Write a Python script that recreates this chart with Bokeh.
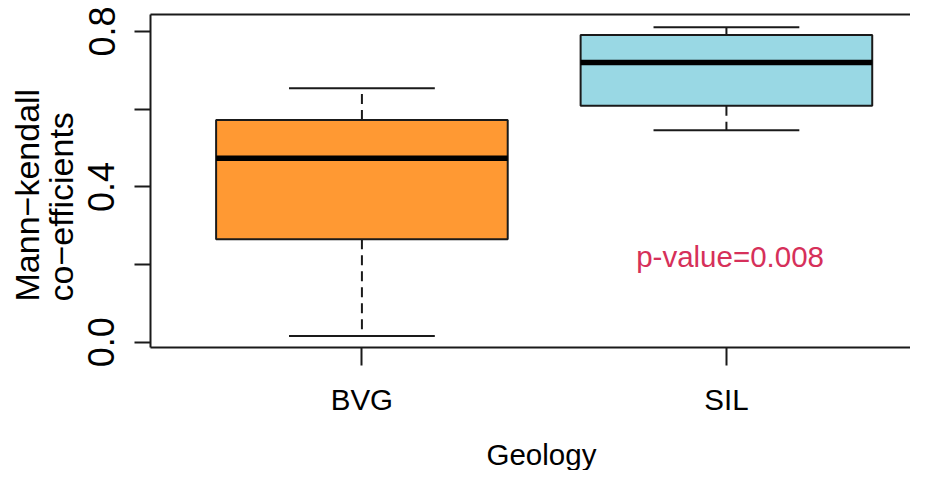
import math
from bokeh.plotting import figure
from bokeh.models import Range1d, FixedTicker, LinearAxis, Label, Title, ColumnDataSource
from bokeh.embed import file_html
from bokeh.resources import INLINE

# ---- data ----
categories = ["BVG", "SIL"]
positions = [1, 2]
lower_whisker = [0.016, 0.546]
q1 = [0.265, 0.609]
median = [0.474, 0.720]
q3 = [0.572, 0.791]
upper_whisker = [0.654, 0.811]
fill_colors = ["#FF9933", "#99D8E4"]

y_ticks = [0.0, 0.2, 0.4, 0.6, 0.8]
y_tick_labels = ["0.0", "", "0.4", "", "0.8"]

x_label = "Geology"
y_label_lines = ["Mann\u2212kendall", "co\u2212efficients"]
p_value_text = "p-value=0.008"
p_value_pos = (2.01, 0.221)

FONT = "Liberation Sans"
LINE = "#1a1a1a"

p = figure(width=910, height=470, output_backend="svg", toolbar_location=None,
           x_range=Range1d(0.42, 2.505), y_range=Range1d(-0.0135, 0.8438),
           min_border_left=149, min_border_right=0, min_border_top=14, min_border_bottom=122,
           x_axis_location="below", y_axis_location="left")
p.outline_line_color = None
p.xgrid.visible = False
p.ygrid.visible = False
p.background_fill_color = "white"
p.border_fill_color = "white"

# axes
xa = p.xaxis[0]
xa.ticker = FixedTicker(ticks=positions)
xa.major_label_overrides = {pos: c for pos, c in zip(positions, categories)}
xa.axis_line_width = 2
xa.axis_line_color = LINE
xa.major_tick_line_width = 2
xa.major_tick_line_color = LINE
xa.major_tick_in = 0
xa.major_tick_out = 18
xa.minor_tick_line_color = None
xa.major_label_text_font = FONT
xa.major_label_text_font_size = "29.5px"
xa.major_label_text_color = "black"
xa.major_label_standoff = 17

ya = p.yaxis[0]
ya.ticker = FixedTicker(ticks=y_ticks)
ya.major_label_overrides = {t: l for t, l in zip(y_ticks, y_tick_labels)}
ya.axis_line_width = 2
ya.axis_line_color = LINE
ya.major_tick_line_width = 2
ya.major_tick_line_color = LINE
ya.major_tick_in = 0
ya.major_tick_out = 16
ya.minor_tick_line_color = None
ya.major_label_text_font = FONT
ya.major_label_text_font_size = "36px"
ya.major_label_text_color = "black"
ya.major_label_orientation = "vertical"
ya.major_label_standoff = 20

top = LinearAxis(ticker=FixedTicker(ticks=[]), axis_line_width=2, axis_line_color=LINE,
                 major_tick_in=0, major_tick_out=0, minor_tick_in=0, minor_tick_out=0,
                 major_label_standoff=0, major_label_text_font_size="0px")
p.add_layout(top, "above")

# ---- boxplots ----
half_box = 0.4
half_cap = 0.2
src = ColumnDataSource(dict(
    x=positions,
    left=[x - half_box for x in positions],
    right=[x + half_box for x in positions],
    cap_l=[x - half_cap for x in positions],
    cap_r=[x + half_cap for x in positions],
    lw=lower_whisker, q1=q1, med=median, q3=q3, uw=upper_whisker,
    color=fill_colors,
))

p.segment(x0="x", y0="q3", x1="x", y1="uw", source=src, line_color=LINE,
          line_width=2, line_dash="10 6")
p.segment(x0="x", y0="q1", x1="x", y1="lw", source=src, line_color=LINE,
          line_width=2, line_dash="10 6")
p.segment(x0="cap_l", y0="uw", x1="cap_r", y1="uw", source=src, line_color=LINE, line_width=2)
p.segment(x0="cap_l", y0="lw", x1="cap_r", y1="lw", source=src, line_color=LINE, line_width=2)
p.quad(left="left", right="right", bottom="q1", top="q3", source=src,
       fill_color="color", line_color=LINE, line_width=2)
p.segment(x0="left", y0="med", x1="right", y1="med", source=src, line_color="black",
          line_width=5.5, line_cap="butt")

# ---- texts ----
p.add_layout(Label(x=p_value_pos[0], y=p_value_pos[1], text=p_value_text,
                   text_font=FONT, text_font_size="29.5px", text_color="#D6305A",
                   text_align="center", text_baseline="middle"))

# spacer between the x axis and its title
p.add_layout(Title(text=" ", text_font_size="1px", standoff=14), "below")
p.add_layout(Title(text=x_label, align="left", offset=336, standoff=0,
                   vertical_align="bottom",
                   text_font=FONT, text_font_size="29.5px", text_font_style="normal",
                   text_color="black"), "below")

p.add_layout(Title(text="\n".join(y_label_lines), align="left", offset=46, standoff=10,
                   text_font=FONT, text_font_size="34px", text_font_style="normal",
                   text_color="black", text_line_height=0.92), "left")

open("out.html", "w").write(file_html(p, INLINE))
